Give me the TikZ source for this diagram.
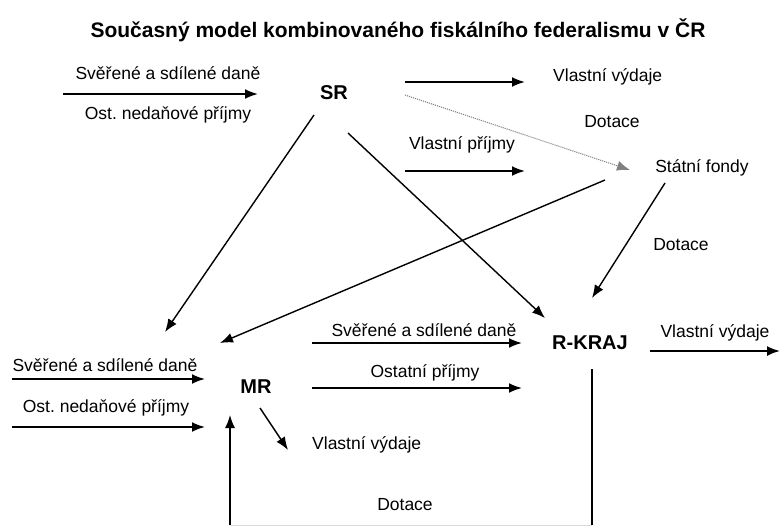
\documentclass[tikz,border=0pt]{standalone}
\usepackage{fontspec}
\setmainfont{Liberation Sans}
\usetikzlibrary{arrows.meta,positioning}
\tikzset{
txtstyle/.style={
  font=\fontsize{17.5}{19}\selectfont,
  inner sep=1pt,
  }
}
\tikzset{
unitstyle/.style={
  font=\fontsize{20}{22}\selectfont\bfseries,
  inner sep=1pt,
  }
}
\tikzset{
flowline/.style={
  line width=1.9pt,
  -{Latex[length=13pt,width=10pt]}
  }
}
\tikzset{
diagline/.style={
  line width=1.4pt,
  -{Latex[length=13pt,width=10pt]}
  }
}

\begin{document}
\begin{tikzpicture}[x=1pt,y=-1pt]
    \useasboundingbox (0,0) rectangle (781,528);

    % title
    \node[font=\fontsize{21}{23}\selectfont\bfseries] (title) at (398,30) {Současný model kombinovaného fiskálního federalismu v ČR};

    % units
    \node[unitstyle] (SR) at (334,93) {SR};
    \node[unitstyle] (MR) at (256,387) {MR};
    \node[unitstyle] (RK) at (590,343) {R-KRAJ};
    \node[txtstyle] (fondy) at (702,168) {Státní fondy};

    % SR part
    \coordinate (srin) at (63,94);
    \coordinate (srinend) at (258,94);
    \node[txtstyle] (srdane) at (168,73) {Svěřené a sdílené daně};
    \node[txtstyle] (srost) at (168,115) {Ost.\ nedaňové příjmy};
    \coordinate (srout) at (405,82);
    \node[txtstyle, anchor=west] (srvv) at (552,77) {Vlastní výdaje};
    \coordinate (srvvend) at (525,82);
    \coordinate (srdot) at (405,95);
    \node[txtstyle] (dotsf) at (612,122) {Dotace};
    \coordinate (sfin) at (630,170);
    \node[txtstyle] (srvp) at (462,145) {Vlastní příjmy};
    \coordinate (vpin) at (405,171);
    \coordinate (vpend) at (525,171);
    \coordinate (srl) at (314,115);
    \coordinate (mrtop) at (165,332);
    \coordinate (srr) at (348,133);
    \coordinate (rktop) at (545,318);

    % fondy part
    \coordinate (sfl) at (605,180);
    \coordinate (mrtr) at (220,343);
    \coordinate (sfr) at (665,183);
    \coordinate (rktr) at (592,298);
    \node[txtstyle] (dotrk) at (681,245) {Dotace};

    % kraj part
    \coordinate (kin1) at (312,343);
    \coordinate (kin1end) at (522,343);
    \node[txtstyle] (kdane) at (424,330) {Svěřené a sdílené daně};
    \coordinate (kin2) at (312,388);
    \coordinate (kin2end) at (522,388);
    \node[txtstyle] (kost) at (425,373) {Ostatní příjmy};
    \coordinate (kout) at (650,351);
    \coordinate (koutend) at (780,351);
    \node[txtstyle] (kvv) at (715,333) {Vlastní výdaje};
    \coordinate (kdown) at (592,369);
    \coordinate (kcorner) at (592,525);

    % obec part
    \coordinate (min1) at (12,379);
    \coordinate (min1end) at (205,379);
    \node[txtstyle] (mdane) at (105,365) {Svěřené a sdílené daně};
    \coordinate (min2) at (12,427);
    \coordinate (min2end) at (205,427);
    \node[txtstyle] (most) at (106,408) {Ost.\ nedaňové příjmy};
    \coordinate (mout) at (260,408);
    \coordinate (moutend) at (288,450);
    \node[txtstyle, anchor=west] (mvv) at (311,445) {Vlastní výdaje};
    \coordinate (mcorner) at (230,525);
    \coordinate (mup) at (230,415);
    \node[txtstyle] (dotmr) at (405,505) {Dotace};

    % SR edges
    \draw[flowline] (srin) -- (srinend);
    \draw[flowline] (srout) -- (srvvend);
    \draw[line width=1.1pt, gray, densely dotted, -{Latex[length=13pt,width=10pt]}] (srdot) -- (sfin);
    \draw[flowline] (vpin) -- (vpend);
    \draw[diagline] (srl) -- (mrtop);
    \draw[diagline] (srr) -- (rktop);

    % fondy edges
    \draw[diagline] (sfl) -- (mrtr);
    \draw[diagline] (sfr) -- (rktr);

    % kraj edges
    \draw[flowline] (kin1) -- (kin1end);
    \draw[flowline] (kin2) -- (kin2end);
    \draw[flowline] (kout) -- (koutend);

    % obec edges
    \draw[flowline] (min1) -- (min1end);
    \draw[flowline] (min2) -- (min2end);
    \draw[diagline] (mout) -- (moutend);
    \draw[line width=1.4pt] (kdown) -- (kcorner);
    \draw[line width=0.6pt, gray!30] (kcorner) -- (mcorner);
    \draw[diagline] (mcorner) -- (mup);
\end{tikzpicture}
\end{document}
